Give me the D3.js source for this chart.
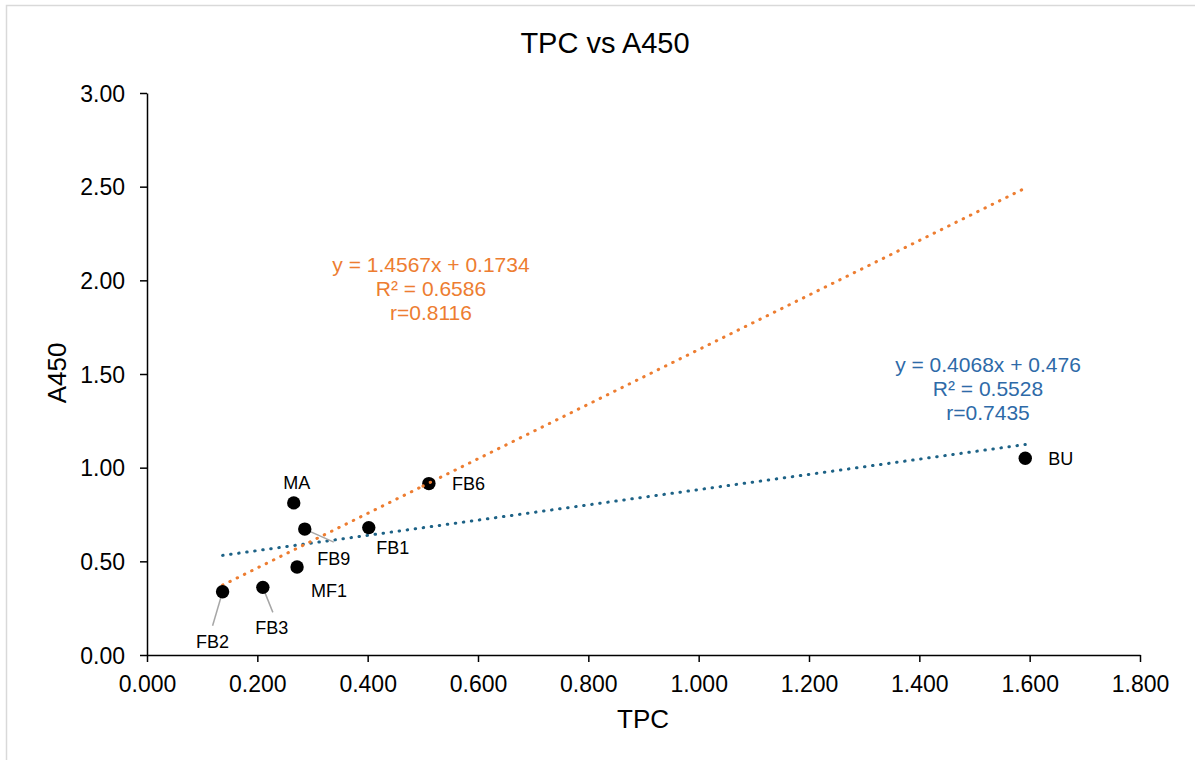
<!DOCTYPE html>
<html>
<head>
<meta charset="utf-8">
<script src="https://cdn.jsdelivr.net/npm/d3@7"></script>
<style>
  body { margin: 0; background: #fff; }
  svg { font-family: Arial, "Liberation Sans", sans-serif; }
</style>
</head>
<body>
<div id="chart"></div>
<script>
// samples and their readings
var names = ["FB2", "FB3", "MA", "MF1", "FB9", "FB1", "FB6", "BU"];
var tpc   = [0.137, 0.210, 0.266, 0.272, 0.286, 0.402, 0.511, 1.592];
var a450  = [0.338, 0.361, 0.812, 0.470, 0.672, 0.680, 0.915, 1.050];

// trendlines (slope, intercept) and their labels
var trendOrange = [1.4567, 0.1734];
var trendBlue   = [0.4068, 0.476];
var orangeText  = ["y = 1.4567x + 0.1734", "R\u00b2 = 0.6586", "r=0.8116"];
var blueText    = ["y = 0.4068x + 0.476", "R\u00b2 = 0.5528", "r=0.7435"];

var xTicks = [0, 0.2, 0.4, 0.6, 0.8, 1.0, 1.2, 1.4, 1.6, 1.8];
var yTicks = [0, 0.5, 1.0, 1.5, 2.0, 2.5, 3.0];

var width = 1195, height = 760;

var svg = d3.select("#chart").append("svg")
  .attr("width", width).attr("height", height);

// chart border
svg.append("rect")
  .attr("x", 6.5).attr("y", 5.5)
  .attr("width", width + 10).attr("height", height + 10)
  .attr("fill", "#fff").attr("stroke", "#d9d9d9").attr("stroke-width", 1.5);

var x = d3.scaleLinear().domain([0, 1.8]).range([147, 1140]);
var y = d3.scaleLinear().domain([0, 3]).range([655, 93]);

var xAxis = svg.append("g")
  .attr("transform", "translate(0," + y(0) + ")")
  .call(d3.axisBottom(x).tickValues(xTicks).tickFormat(d3.format(".3f"))
    .tickSize(7).tickSizeOuter(0).tickPadding(14));

var yAxis = svg.append("g")
  .attr("transform", "translate(" + x(0) + ",0)")
  .call(d3.axisLeft(y).tickValues(yTicks).tickFormat(d3.format(".2f"))
    .tickSize(7).tickSizeOuter(0).tickPadding(15));

[xAxis, yAxis].forEach(function(g) {
  g.select(".domain").attr("stroke", "#000").attr("stroke-width", 1.5);
  g.selectAll(".tick line").attr("stroke", "#000").attr("stroke-width", 1.5);
  g.selectAll(".tick text").attr("fill", "#000").style("font-size", "23px")
    .style("font-family", "Arial, 'Liberation Sans', sans-serif");
});
yAxis.selectAll(".tick text").attr("dy", "0.36em");

// titles
svg.append("text").attr("x", 605).attr("y", 53).attr("text-anchor", "middle")
  .style("font-size", "29px").text("TPC vs A450");
svg.append("text").attr("x", 643).attr("y", 728).attr("text-anchor", "middle")
  .style("font-size", "26px").text("TPC");
svg.append("text").attr("transform", "translate(66,373) rotate(-90)")
  .attr("text-anchor", "middle").style("font-size", "26px").text("A450");

// trendlines from the lowest to the highest TPC
var xMin = d3.min(tpc), xMax = d3.max(tpc);
function trend(t, color) {
  svg.append("line")
    .attr("x1", x(xMin)).attr("y1", y(t[0] * xMin + t[1]))
    .attr("x2", x(xMax)).attr("y2", y(t[0] * xMax + t[1]))
    .attr("stroke", color).attr("stroke-width", 3)
    .attr("stroke-linecap", "round").attr("stroke-dasharray", "0.5 7.6");
}
trend(trendBlue, "#1d6286");
trend(trendOrange, "#ed7d31");

function trendLabel(lines, cx, top, color) {
  svg.append("g").selectAll("text").data(lines).enter().append("text")
    .attr("x", cx).attr("y", function(d, i) { return top + i * 24; })
    .attr("text-anchor", "middle").attr("fill", color)
    .style("font-size", "21px").text(function(d) { return d; });
}
trendLabel(orangeText, 431, 272, "#ed7d31");
trendLabel(blueText, 988, 372, "#2e6aa8");

// point labels: offset from the point, optional leader end
var labelPlace = {
  FB2: { dx: -10, dy: 56, anchor: "middle", lead: [-10, 34] },
  FB3: { dx: 9, dy: 47, anchor: "middle", lead: [10, 25] },
  MA:  { dx: 3, dy: -14, anchor: "middle" },
  MF1: { dx: 32, dy: 30, anchor: "middle" },
  FB9: { dx: 29, dy: 36, anchor: "middle", lead: [29, 13] },
  FB1: { dx: 24, dy: 26, anchor: "middle" },
  FB6: { dx: 23, dy: 6, anchor: "start" },
  BU:  { dx: 23, dy: 7, anchor: "start" }
};

var pts = names.map(function(n, i) { return { name: n, x: tpc[i], y: a450[i] }; });

svg.append("g").selectAll("line").data(pts.filter(function(d) { return labelPlace[d.name].lead; }))
  .enter().append("line")
  .attr("x1", function(d) { return x(d.x); })
  .attr("y1", function(d) { return y(d.y); })
  .attr("x2", function(d) { return x(d.x) + labelPlace[d.name].lead[0]; })
  .attr("y2", function(d) { return y(d.y) + labelPlace[d.name].lead[1]; })
  .attr("stroke", "#a6a6a6").attr("stroke-width", 1.5);

svg.append("g").selectAll("circle").data(pts).enter().append("circle")
  .attr("cx", function(d) { return x(d.x); })
  .attr("cy", function(d) { return y(d.y); })
  .attr("r", 6.7).attr("fill", "#000");

// the orange trendline passes over the FB6 marker
svg.append("line")
  .attr("x1", x(tpc[6]) - 6).attr("y1", y(trendOrange[0] * (tpc[6] - 0.011) + trendOrange[1]))
  .attr("x2", x(tpc[6]) + 6).attr("y2", y(trendOrange[0] * (tpc[6] + 0.011) + trendOrange[1]))
  .attr("stroke", "#ed7d31").attr("stroke-width", 3)
  .attr("stroke-linecap", "round").attr("stroke-dasharray", "0.5 7.6");

svg.append("g").selectAll("text").data(pts).enter().append("text")
  .attr("x", function(d) { return x(d.x) + labelPlace[d.name].dx; })
  .attr("y", function(d) { return y(d.y) + labelPlace[d.name].dy; })
  .attr("text-anchor", function(d) { return labelPlace[d.name].anchor; })
  .style("font-size", "18px").attr("fill", "#000")
  .text(function(d) { return d.name; });
</script>
</body>
</html>
